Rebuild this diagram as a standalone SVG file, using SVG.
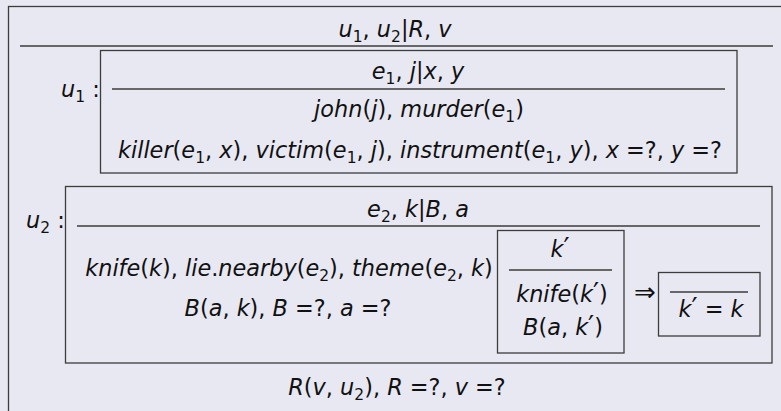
<svg xmlns="http://www.w3.org/2000/svg" width="781" height="411" viewBox="0 0 781 411">
<style>
text{font-family:"DejaVu Sans","Liberation Sans",sans-serif;font-size:22.4px;font-style:italic;fill:#111;text-anchor:middle}
.n{font-style:normal}
.s{font-style:normal;font-size:15.5px}
.p{font-style:normal;font-size:27px}
.st{text-anchor:start}
.box{fill:none;stroke:#3c3c3c;stroke-width:1.3}
.rule{stroke:#3c3c3c;stroke-width:1.3}
.ar{font-style:normal;font-size:26px}
</style>
<rect width="781" height="411" fill="#e8e8f2"/>
<g id="outer">
<rect class="box" x="8.5" y="6.5" width="800" height="430"/>
<line class="rule" x1="20" y1="46" x2="773" y2="46"/>
<text x="395" y="37">u<tspan class="s" dy="5">1</tspan><tspan class="n" dy="-5">, </tspan>u<tspan class="s" dy="5">2</tspan><tspan class="n" dy="-5">|</tspan>R<tspan class="n">, </tspan>v</text>
<text x="397" y="395">R<tspan class="n">(</tspan>v<tspan class="n">, </tspan>u<tspan class="s" dy="5">2</tspan><tspan class="n" dy="-5">), </tspan>R <tspan class="n">=?, </tspan>v <tspan class="n">=?</tspan></text>
</g>
<g id="u1">
<text class="st" x="61" y="97">u<tspan class="s" dy="5">1</tspan><tspan class="n" dy="-5"> :</tspan></text>
<rect class="box" x="100.5" y="50.5" width="636.5" height="122.5"/>
<line class="rule" x1="112" y1="89" x2="725" y2="89"/>
<text x="418" y="79">e<tspan class="s" dy="5">1</tspan><tspan class="n" dy="-5">, </tspan>j<tspan class="n">|</tspan>x<tspan class="n">, </tspan>y</text>
<text x="419" y="117">john<tspan class="n">(</tspan>j<tspan class="n">), </tspan>murder<tspan class="n">(</tspan>e<tspan class="s" dy="5">1</tspan><tspan class="n" dy="-5">)</tspan></text>
<text x="420" y="158">killer<tspan class="n">(</tspan>e<tspan class="s" dy="5">1</tspan><tspan class="n" dy="-5">, </tspan>x<tspan class="n">), </tspan>victim<tspan class="n">(</tspan>e<tspan class="s" dy="5">1</tspan><tspan class="n" dy="-5">, </tspan>j<tspan class="n">), </tspan>instrument<tspan class="n">(</tspan>e<tspan class="s" dy="5">1</tspan><tspan class="n" dy="-5">, </tspan>y<tspan class="n">), </tspan>x <tspan class="n">=?, </tspan>y <tspan class="n">=?</tspan></text>
</g>
<g id="u2">
<text class="st" x="26" y="228">u<tspan class="s" dy="5">2</tspan><tspan class="n" dy="-5"> :</tspan></text>
<rect class="box" x="65.5" y="186.5" width="706.5" height="176.5"/>
<line class="rule" x1="77" y1="226" x2="760" y2="226"/>
<text x="418" y="217">e<tspan class="s" dy="5">2</tspan><tspan class="n" dy="-5">, </tspan>k<tspan class="n">|</tspan>B<tspan class="n">, </tspan>a</text>
<text x="289" y="276">knife<tspan class="n">(</tspan>k<tspan class="n">), </tspan>lie<tspan class="n">.</tspan>nearby<tspan class="n">(</tspan>e<tspan class="s" dy="5">2</tspan><tspan class="n" dy="-5">), </tspan>theme<tspan class="n">(</tspan>e<tspan class="s" dy="5">2</tspan><tspan class="n" dy="-5">, </tspan>k<tspan class="n">)</tspan></text>
<text x="288" y="316">B<tspan class="n">(</tspan>a<tspan class="n">, </tspan>k<tspan class="n">), </tspan>B <tspan class="n">=?, </tspan>a <tspan class="n">=?</tspan></text>
</g>
<g id="kprime">
<rect class="box" x="497.5" y="230.5" width="126.5" height="122.5"/>
<line class="rule" x1="509" y1="270" x2="612" y2="270"/>
<text x="560" y="257">k<tspan class="p">′</tspan></text>
<text x="562" y="302">knife<tspan class="n">(</tspan>k<tspan class="p">′</tspan><tspan class="n">)</tspan></text>
<text x="563" y="335">B<tspan class="n">(</tspan>a<tspan class="n">, </tspan>k<tspan class="p">′</tspan><tspan class="n">)</tspan></text>
</g>
<g id="connectors">
<text class="ar" x="645" y="301">⇒</text>
</g>
<g id="keq">
<rect class="box" x="658.5" y="272.5" width="101.5" height="63.5"/>
<line class="rule" x1="670" y1="292" x2="748" y2="292"/>
<text x="711" y="317">k<tspan class="p">′</tspan><tspan class="n"> = </tspan>k</text>
</g>
</svg>
